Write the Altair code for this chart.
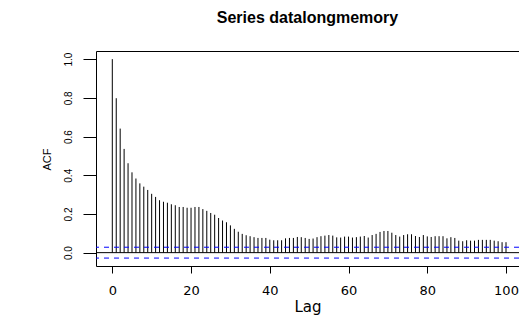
import altair as alt
import pandas as pd

lags = list(range(0, 101))
acf_values = [
    1.000, 0.798, 0.641, 0.536, 0.462, 0.415, 0.383, 0.358, 0.341, 0.324,
    0.304, 0.288, 0.271, 0.263, 0.258, 0.250, 0.245, 0.236, 0.236, 0.232,
    0.232, 0.236, 0.236, 0.225, 0.216, 0.205, 0.196, 0.179, 0.166, 0.157,
    0.141, 0.123, 0.108, 0.097, 0.090, 0.085, 0.080, 0.076, 0.076, 0.076,
    0.067, 0.064, 0.064, 0.064, 0.074, 0.076, 0.076, 0.081, 0.080, 0.076,
    0.071, 0.073, 0.080, 0.085, 0.088, 0.091, 0.088, 0.079, 0.078, 0.083,
    0.083, 0.078, 0.080, 0.083, 0.086, 0.078, 0.091, 0.097, 0.107, 0.112,
    0.112, 0.103, 0.091, 0.083, 0.091, 0.095, 0.095, 0.086, 0.081, 0.091,
    0.084, 0.081, 0.085, 0.085, 0.085, 0.074, 0.080, 0.076, 0.062, 0.059,
    0.064, 0.062, 0.062, 0.066, 0.066, 0.066, 0.066, 0.062, 0.059, 0.054,
    0.054,
]
ci_levels = [0.028, -0.028]
zero_level = [0.0]
title_text = "Series datalongmemory"
x_ticks = [0, 20, 40, 60, 80, 100]
y_ticks = [0.0, 0.2, 0.4, 0.6, 0.8, 1.0]

df = pd.DataFrame({"lag": lags, "acf": acf_values, "base": [0.0] * len(lags)})
df_ci = pd.DataFrame({"level": ci_levels})
df_zero = pd.DataFrame({"level": zero_level})

x_scale = alt.Scale(domain=[-4.14, 103.30], nice=False, zero=False)
y_scale = alt.Scale(domain=[-0.069, 1.042], nice=False, zero=False)

x_axis = alt.Axis(
    values=x_ticks, domain=False, grid=False, tickColor="black", tickSize=7,
    labelFont="DejaVu Sans", labelFontSize=13, labelColor="black",
    labelPadding=11, labelBaseline="top",
    title="Lag", titleFont="DejaVu Sans", titleFontSize=15, titleFontWeight="normal",
    titleColor="black", titleY=45, titleBaseline="alphabetic",
)
y_axis = alt.Axis(
    values=y_ticks, format=".1f", domain=False, grid=False, tickColor="black",
    tickSize=13, labelFont="Liberation Sans", labelFontSize=10, labelColor="black",
    labelAngle=270, labelAlign="center", labelBaseline="bottom", labelPadding=10,
    title="ACF", titleFont="Liberation Sans", titleFontSize=11, titleFontWeight="normal",
    titleColor="black", titleAngle=270, titleAlign="center", titleBaseline="middle",
    titleX=-49, titleY=108,
)

bars = alt.Chart(df).mark_rule(color="black", strokeWidth=1).encode(
    x=alt.X("lag:Q", scale=x_scale, axis=x_axis),
    y=alt.Y("base:Q", scale=y_scale, axis=y_axis),
    y2="acf:Q",
)

zero = alt.Chart(df_zero).mark_rule(color="black", strokeWidth=1).encode(
    y=alt.Y("level:Q", scale=y_scale),
)

ci = alt.Chart(df_ci).mark_rule(color="#0000FF", strokeWidth=1, strokeDash=[5, 5]).encode(
    y=alt.Y("level:Q", scale=y_scale),
)

chart = alt.layer(bars, zero, ci).properties(
    width=423,
    height=215,
    background="white",
    title=alt.TitleParams(
        text=title_text, font="Liberation Sans", fontSize=16, fontWeight="bold",
        color="black", anchor="middle", baseline="alphabetic", offset=12,
    ),
    autosize=alt.AutoSizeParams(type="none"),
    padding={"left": 88, "top": 43, "right": 0, "bottom": 50},
).configure_view(
    stroke="black", strokeWidth=1,
)

chart.save("out.html", embed_options={"renderer": "svg", "actions": False})
